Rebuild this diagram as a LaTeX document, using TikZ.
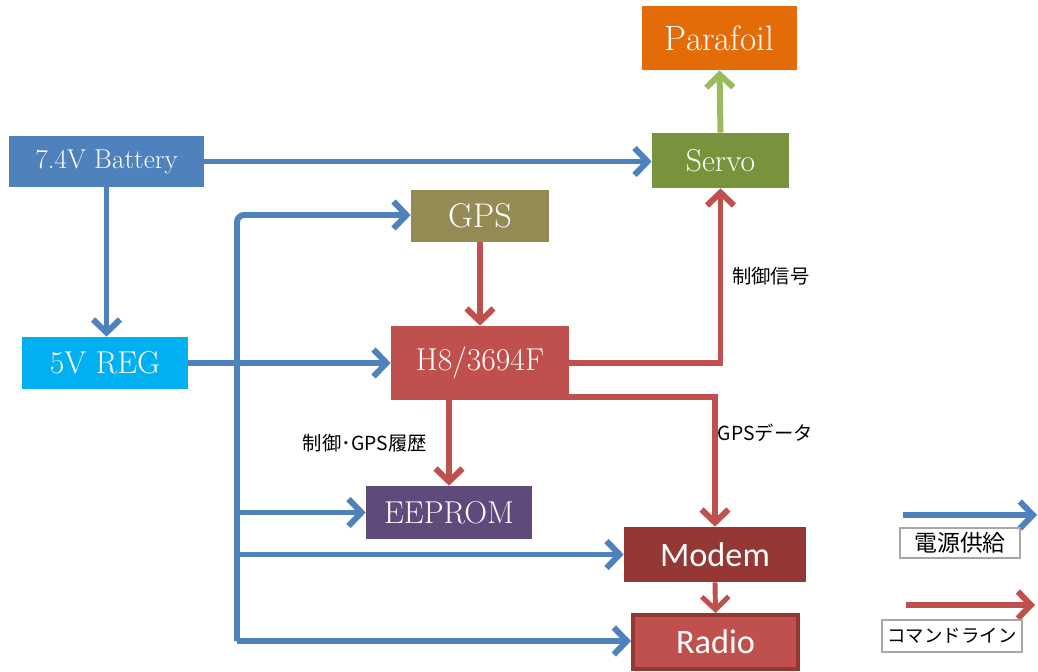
\documentclass[tikz,border=0pt]{standalone}
\usepackage{fontspec}
\newfontfamily\jpfont{Noto Sans CJK JP}
\newfontfamily\calfont{Carlito}
\usetikzlibrary{arrows.meta,positioning}
\definecolor{PowerBlue}{RGB}{79,129,189}
\definecolor{CmdRed}{RGB}{192,80,77}
\definecolor{DarkRed}{RGB}{149,55,53}
\definecolor{ServoGreen}{RGB}{119,147,60}
\definecolor{LightGreen}{RGB}{155,187,89}
\definecolor{GpsOlive}{RGB}{148,138,84}
\definecolor{RegCyan}{RGB}{0,176,240}
\definecolor{RomPurple}{RGB}{96,74,123}
\definecolor{FoilOrange}{RGB}{227,108,9}
\definecolor{LegendGray}{RGB}{166,166,166}

\begin{document}
\begin{tikzpicture}[
 block/.style={text=white, inner sep=0pt, font=\fontsize{18}{20}\selectfont},
 power/.style={draw=PowerBlue, line width=3.4pt, -{Straight Barb[length=2.6mm,width=5.4mm]}},
 command/.style={draw=CmdRed, line width=3.4pt, -{Straight Barb[length=2.6mm,width=5.4mm]}},
 actuate/.style={draw=LightGreen, line width=3.4pt, -{Straight Barb[length=2.6mm,width=5.4mm]}},
 sigtext/.style={font=\jpfont\fontsize{11}{13}\selectfont, text=black, inner sep=2pt},
 legendbox/.style={draw=LegendGray, line width=1.3pt, fill=white, inner sep=0pt, font=\jpfont}
]
\useasboundingbox (0,0) rectangle (20.76,-13.42);

\node[block, fill=FoilOrange, minimum width=3.10cm, minimum height=1.28cm, font=\fontsize{20}{22}\selectfont] (foil) at (14.39,-0.76) {Parafoil};
\node[block, fill=ServoGreen, minimum width=2.74cm, minimum height=1.10cm] (servo) at (14.41,-3.21) {Servo};
\node[block, fill=PowerBlue, minimum width=3.90cm, minimum height=1.02cm, font=\fontsize{15.5}{18}\selectfont] (bat) at (2.13,-3.23) {7.4V Battery};
\node[block, fill=GpsOlive, minimum width=2.76cm, minimum height=1.04cm, font=\fontsize{19.5}{22}\selectfont] (gps) at (9.60,-4.32) {GPS};
\node[block, fill=RegCyan, minimum width=3.32cm, minimum height=1.04cm] (reg) at (2.10,-7.26) {5V REG};
\node[block, fill=CmdRed, minimum width=3.56cm, minimum height=1.48cm] (h8) at (9.60,-7.26) {H8/3694F};
\node[block, fill=RomPurple, minimum width=3.32cm, minimum height=1.06cm] (rom) at (8.98,-10.25) {EEPROM};
\node[block, fill=DarkRed, minimum width=3.64cm, minimum height=1.10cm, font=\calfont\fontsize{19.5}{22}\selectfont] (modem) at (14.30,-11.09) {Modem};
\node[block, fill=CmdRed, draw=DarkRed, line width=2.3pt, minimum width=3.30cm, minimum height=1.08cm, font=\calfont\fontsize{19.5}{22}\selectfont] (radio) at (14.31,-12.84) {Radio};

\coordinate (bus) at (4.74,-4.30);
\coordinate (busend) at (4.74,-12.82);

\draw[power] (bat.east) -- (bat.east -| servo.west);
\draw[power] (bat.south) -- (bat.south |- reg.north);
\draw[power] (reg.east) -- (h8.west);
\draw[power, rounded corners=4pt] (busend) -- (bus) -- (bus -| gps.west);
\draw[power] (bus |- rom.west) -- (rom.west);
\draw[power] (bus |- modem.west) -- (modem.west);
\draw[power] (busend) -- (busend -| radio.west);

\draw[command] (gps.south) -- (h8.north);
\draw[command] (h8.east) -| (servo.south) node[sigtext, pos=0.75, right=3pt] {制御信号};
\draw[command] ([yshift=2pt]h8.south east) -| (modem.north) node[sigtext, pos=0.64, anchor=west, inner sep=1pt, xshift=-1pt] {GPSデータ};
\draw[command] (rom.north |- h8.south) -- (rom.north) node[sigtext, midway, left=9pt] {制御･GPS履歴};
\draw[command, line width=2.8pt] (modem.south) -- (radio.north);
\draw[actuate] (servo.north) -- (foil.south);

\coordinate (pwrA) at (18.06,-10.30);
\coordinate (pwrB) at (20.74,-10.30);
\coordinate (cmdA) at (18.12,-12.10);
\coordinate (cmdB) at (20.70,-12.10);
\draw[power] (pwrA) -- (pwrB);
\draw[command] (cmdA) -- (cmdB);
\node[legendbox, minimum width=2.40cm, minimum height=0.60cm, font=\jpfont\fontsize{13}{15}\selectfont] (pwrkey) at (19.20,-10.86) {電源供給};
\node[legendbox, minimum width=2.80cm, minimum height=0.64cm, font=\jpfont\fontsize{10.5}{13}\selectfont] (cmdkey) at (19.04,-12.72) {コマンドライン};
\end{tikzpicture}
\end{document}
